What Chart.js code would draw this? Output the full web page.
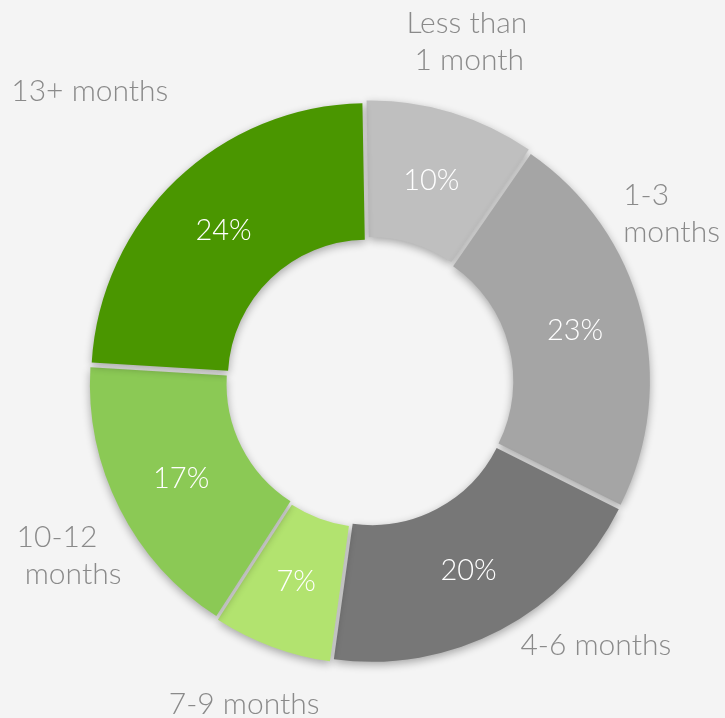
<!DOCTYPE html>
<html>
<head>
<meta charset="utf-8">
<script src="https://cdn.jsdelivr.net/npm/chart.js@4"></script>
<style>
    html, body { margin: 0; padding: 0; background: #f4f4f4; }
    #chart_area { width: 725px; height: 718px; }
</style>
</head>
<body>
<div id="chart_area"><canvas id="tenure_chart" width="725" height="718"></canvas></div>
<script>

// Chart data
const categories = [["Less than", " 1 month"], ["1-3", "months"], ["4-6 months"], ["7-9 months"], ["10-12", " months"], ["13+ months"]];
const shares = [10, 23, 20, 7, 17, 24];
const slice_colors = ["#bfbfbf", "#a5a5a5", "#777777", "#b2e36f", "#8bc955", "#4a9600"];

// where each outside label sits: [angle shift in degrees, distance past the outer edge]
const label_nudge = [[-1, 75], [-15, 66], [-13, 66], [1, 65], [-3, 67], [0, 125]];

const slice_shadow = {
    id: "slice_shadow",
    beforeDatasetsDraw(chart) {
        const ctx = chart.ctx;
        ctx.save();
        ctx.shadowColor = "rgba(0, 0, 0, 0.32)";
        ctx.shadowBlur = 8;
        ctx.shadowOffsetY = 3;
    },
    afterDatasetsDraw(chart) {
        chart.ctx.restore();
    }
};

const slice_labels = {
    id: "slice_labels",
    afterDraw(chart) {

        const ctx = chart.ctx;
        const arcs = chart.getDatasetMeta(0).data;

        ctx.save();
        arcs.forEach((arc, i) => {

            const {x, y, startAngle, endAngle, innerRadius, outerRadius} = arc.getProps(["x", "y", "startAngle", "endAngle", "innerRadius", "outerRadius"]);
            const shift = arc.options.offset / 4;      // chart.js translates by offset / 4
            const mid = (startAngle + endAngle) / 2;

            // Percentage inside the ring
            const half_r = (innerRadius + outerRadius) / 2 + shift;
            ctx.font = "300 29px Lato, 'Open Sans', sans-serif";
            ctx.fillStyle = "#ffffff";
            ctx.textAlign = "center";
            ctx.textBaseline = "alphabetic";
            ctx.fillText(shares[i] + "%", x + Math.cos(mid) * half_r, y + Math.sin(mid) * half_r + 10.5);

            // Category name outside the ring
            const angle = mid + label_nudge[i][0] * Math.PI / 180;
            const r = outerRadius + shift + label_nudge[i][1];
            const cx = x + Math.cos(angle) * r;
            const cy = y + Math.sin(angle) * r;
            const lines = categories[i];
            const line_height = 37;

            ctx.font = "300 30px Lato, 'Open Sans', sans-serif";
            ctx.fillStyle = "#8a8a8a";
            ctx.textAlign = "left";
            const block_width = Math.max(...lines.map(l => ctx.measureText(l).width));
            lines.forEach((line, j) => {
                const ly = cy - (lines.length - 1) * line_height / 2 + j * line_height + 11;
                ctx.fillText(line, cx - block_width / 2, ly);
            });

        });
        ctx.restore();

    }
};

var chart = new Chart("tenure_chart", {
    type: "doughnut",
    data: {
        labels: categories,
        datasets: [{
            data: shares,
            backgroundColor: slice_colors,
            borderWidth: 0,
            offset: 16
        }]
    },
    options: {
        responsive: false,
        animation: false,
        events: [],
        radius: 276,
        cutout: "50.5%",
        rotation: -1,
        layout: {
            padding: {left: 15, right: 0, top: 46, bottom: 0}
        },
        plugins: {
            legend: {display: false},
            tooltip: {enabled: false}
        }
    },
    plugins: [slice_shadow, slice_labels]
});

</script>
</body>
</html>
